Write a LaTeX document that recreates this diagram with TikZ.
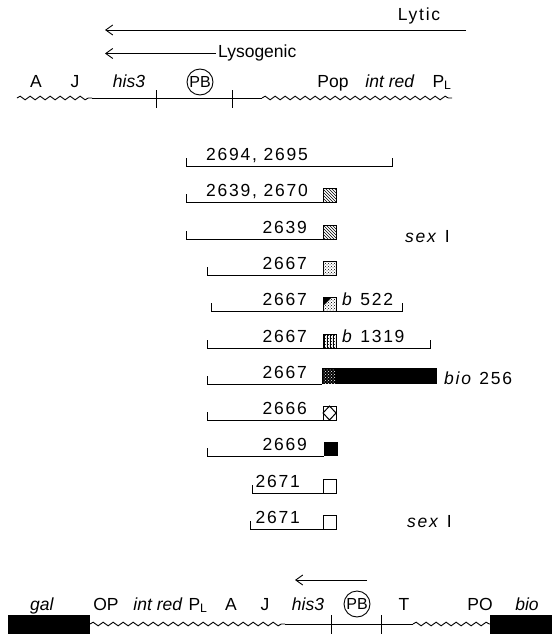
\documentclass[tikz,border=0pt]{standalone}
\usepackage{fontspec}
\setmainfont{Liberation Sans}
\newfontfamily\numf{Liberation Sans}[LetterSpace=10]
\usetikzlibrary{arrows.meta,decorations.pathmorphing,patterns}
\begin{document}
\begin{tikzpicture}[x=1pt,y=-1pt,
  every node/.style={inner sep=0pt,font=\fontsize{17.5}{19}\selectfont},
  num/.style={font=\fontsize{17.5}{19}\selectfont\numf},
  wave/.style={decorate,decoration={snake,segment length=10pt,amplitude=1.8pt},line width=0.9pt},
  seg/.style={line width=0.9pt},
  arr/.style={-{Straight Barb[length=7pt,width=10pt]},line width=0.9pt},
  pbc/.style={circle,draw,line width=0.9pt,minimum size=26pt,font=\fontsize{16}{17}\selectfont},
  sq/.style={draw,line width=0.8pt}]
\useasboundingbox (0,0) rectangle (552,634);

% ---------- top map ----------
\node[anchor=base,num] (lytic) at (419,21) {Lytic};
\coordinate (lyR) at (466,30);
\coordinate (lyL) at (105,30);
\draw[arr] (lyR) -- (lyL);
\node[anchor=base west] (lyso) at (218,58) {Lysogenic};
\coordinate (lysoL) at (105,54);
\draw[arr] ([xshift=-2pt]lyso.west) -- (lyso.west -| lysoL);

\draw[wave] (17,98) -- (92,98);
\draw[seg] (92,98) -- (262,98);
\draw[wave] (262,98) -- (452,98);
\draw[seg] (156,90) -- (156,108);
\draw[seg] (232,90) -- (232,108);
\node[pbc] (pbtop) at (200,82) {PB};
\node[anchor=base] (tA) at (36,87) {A};
\node[anchor=base] (tJ) at (75,87) {J};
\node[anchor=base] (this) at (129,87) {\textit{his3}};
\node[anchor=base] (tpop) at (333,87) {Pop};
\node[anchor=base] (tint) at (390,87) {\textit{int red}};
\node[anchor=base] (tpl) at (442,87) {P\textsubscript{L}};

% ---------- deletion rows ----------
% row 0
\node[anchor=base east,num] (r0) at (308,160) {2694, 2695};
\draw[seg] (186,158) -- (186,166) -- (392,166) -- (392,158);
% row 1
\node[anchor=base east,num] (r1) at (308,196) {2639, 2670};
\draw[seg] (186,194) -- (186,202) -- (323,202);
\draw[sq,pattern=north west lines] (323,188) rectangle (336,202);
% row 2
\node[anchor=base east,num] (r2) at (307,233) {2639};
\draw[seg] (186,231) -- (186,239) -- (323,239);
\draw[sq,pattern=north west lines] (323,225) rectangle (336,239);
\node[anchor=base west,num] (sex1) at (405,242) {\textit{sex} I};
% row 3
\node[anchor=base east,num] (r3) at (307,269) {2667};
\draw[seg] (207,267) -- (207,275) -- (323,275);
\draw[sq,pattern=crosshatch dots] (323,261) rectangle (336,275);
% row 4
\node[anchor=base east,num] (r4) at (307,305) {2667};
\draw[seg] (211,303) -- (211,311) -- (402,311) -- (402,303);
\draw[sq,pattern=crosshatch dots] (323,297) rectangle (336,311);
\fill (323,297) -- (332,297) -- (323,306) -- cycle;
\node[anchor=base west,num] (b522) at (342,305) {\textit{b} 522};
% row 5
\node[anchor=base east,num] (r5) at (307,342) {2667};
\draw[seg] (207,340) -- (207,348) -- (430,348) -- (430,340);
\draw[sq,pattern=vertical lines] (323,334) rectangle (336,348);
\fill[pattern=crosshatch dots] (323,334) rectangle (336,348);
\node[anchor=base west,num] (b1319) at (342,342) {\textit{b} 1319};
% row 6
\node[anchor=base east,num] (r6) at (307,378) {2667};
\draw[seg] (207,376) -- (207,384) -- (322,384);
\fill (322,368) rectangle (437,384);
\fill[pattern=crosshatch dots,pattern color=white] (323,369) rectangle (335,383);
\node[anchor=base west,num] (bio256) at (444,384) {\textit{bio} 256};
% row 7
\node[anchor=base east,num] (r7) at (307,414) {2666};
\draw[seg] (207,412) -- (207,420) -- (323,420);
\draw[sq] (323,406) rectangle (336,420);
\draw[line width=1pt] (329.5,406) -- (336,413) -- (329.5,420) -- (323,413) -- cycle;
% row 8
\node[anchor=base east,num] (r8) at (307,450) {2669};
\draw[seg] (207,448) -- (207,456) -- (324,456);
\fill (324,442) rectangle (338,456);
% row 9
\node[anchor=base east,num] (r9) at (300,487) {2671};
\draw[seg] (252,485) -- (252,493) -- (323,493);
\draw[sq] (323,479) rectangle (336,493);
% row 10
\node[anchor=base east,num] (r10) at (300,523) {2671};
\draw[seg] (250,521) -- (250,529) -- (323,529);
\draw[sq] (323,515) rectangle (336,529);
\node[anchor=base west,num] (sex2) at (407,527) {\textit{sex} I};

% ---------- bottom map ----------
\coordinate (bR) at (367,580);
\coordinate (bL) at (295,580);
\draw[arr] (bR) -- (bL);
\fill (8,615) rectangle (90,634);
\draw[wave] (90,624) -- (285,624);
\draw[seg] (285,624) -- (413,624);
\draw[wave] (413,624) -- (490,624);
\fill (490,615) rectangle (552,634);
\draw[seg] (331,615) -- (331,634);
\draw[seg] (381,615) -- (381,634);
\node[anchor=base] (bgal) at (42,610) {\textit{gal}};
\node[anchor=base] (bop) at (106,610) {OP};
\node[anchor=base] (bint) at (158,610) {\textit{int red}};
\node[anchor=base] (bpl) at (198,610) {P\textsubscript{L}};
\node[anchor=base] (bA) at (231,610) {A};
\node[anchor=base] (bJ) at (265,610) {J};
\node[anchor=base] (bhis) at (308,610) {\textit{his3}};
\node[pbc] (pbbot) at (357,604) {PB};
\node[anchor=base] (bT) at (404,610) {T};
\node[anchor=base] (bPO) at (480,610) {PO};
\node[anchor=base] (bbio) at (527,610) {\textit{bio}};
\end{tikzpicture}
\end{document}
